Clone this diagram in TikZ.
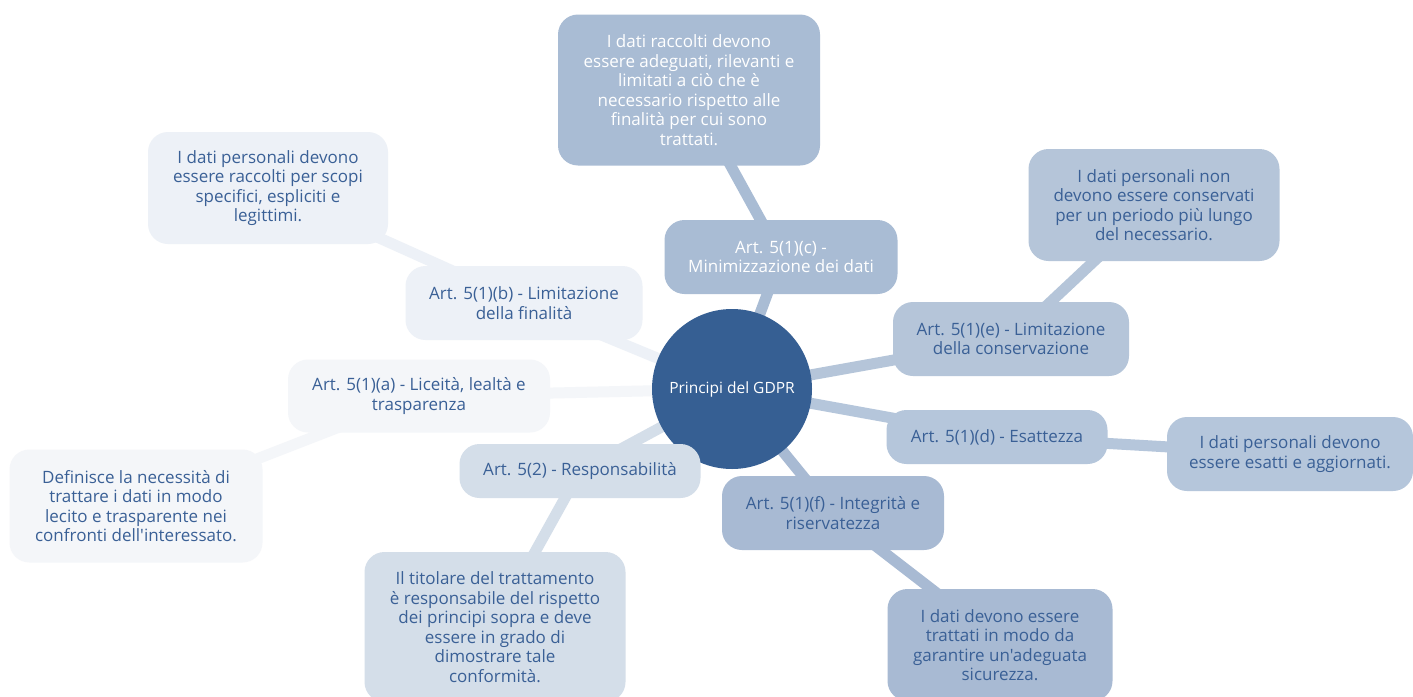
\documentclass[tikz,border=0pt]{standalone}
\usepackage{fontspec}
\setmainfont{Open Sans}[Ligatures=TeXOff]
\definecolor{ctr}{HTML}{365F93}
\definecolor{tblue}{HTML}{3A6096}
\definecolor{cc}{HTML}{A9BCD4}
\definecolor{cb}{HTML}{EDF1F7}
\definecolor{ca}{HTML}{F4F6F9}
\definecolor{cr}{HTML}{D4DEE9}
\definecolor{ce}{HTML}{B5C5D9}
\definecolor{cd}{HTML}{B5C6DB}
\definecolor{cf}{HTML}{A8BAD3}
\begin{document}
\begin{tikzpicture}[x=1pt,y=-1pt,
  box/.style={rounded corners=20pt, align=center, inner sep=0pt, font=\fontsize{17}{19.5}\selectfont},
  link/.style={line width=11pt},
]
\useasboundingbox[fill=white] (0,0) rectangle (1413,696);
% node centres
\coordinate (C) at (732,389);
% connectors
\draw[link,cc] (C) -- (781,257) -- (689,90);
\draw[link,cb] (C) -- (524,303) -- (268,188);
\draw[link,ca] (C) -- (419,396) -- (136,506);
\draw[link,cr] (C) -- (580,471) -- (495,624);
\draw[link,ce] (C) -- (1011,339) -- (1154,205);
\draw[link,cd] (C) -- (997,437) -- (1290,454);
\draw[link,cf] (C) -- (833,513) -- (1000,642);
% centre
\node[circle, fill=ctr, minimum size=160pt, inner sep=0pt, text=white, font=\fontsize{15.5}{19.5}\selectfont] (center) at (C) {Principi del GDPR};
% c
\node[box, fill=cc, text=white, minimum width=233pt, minimum height=74pt] (lc) at (781,257) {Art. 5(1)(c) -\\Minimizzazione dei dati};
\node[box, fill=cc, text=white, minimum width=262pt, minimum height=151pt] (dc) at (689,90) {I dati raccolti devono\\essere adeguati, rilevanti e\\limitati a ciò che è\\necessario rispetto alle\\finalità per cui sono\\trattati.};
% b
\node[box, fill=cb, text=tblue, minimum width=237pt, minimum height=74pt] (lb) at (524,303) {Art. 5(1)(b) - Limitazione\\della finalità};
\node[box, fill=cb, text=tblue, minimum width=240pt, minimum height=112pt] (db) at (268,188) {I dati personali devono\\essere raccolti per scopi\\specifici, espliciti e\\legittimi.};
% a
\node[box, fill=ca, text=tblue, minimum width=262pt, minimum height=73pt] (la) at (419,396) {Art. 5(1)(a) - Liceità, lealtà e\\trasparenza};
\node[box, fill=ca, text=tblue, minimum width=253pt, minimum height=113pt] (da) at (136,506) {Definisce la necessità di\\trattare i dati in modo\\lecito e trasparente nei\\confronti dell'interessato.};
% 2
\node[box, fill=cr, text=tblue, minimum width=241pt, minimum height=54pt] (lr) at (580,471) {Art. 5(2) - Responsabilità};
\node[box, fill=cr, text=tblue, minimum width=261pt, minimum height=150pt] (dr) at (495,627) {Il titolare del trattamento\\è responsabile del rispetto\\dei principi sopra e deve\\essere in grado di\\dimostrare tale\\conformità.};
% e
\node[box, fill=ce, text=tblue, minimum width=236pt, minimum height=74pt] (le) at (1011,339) {Art. 5(1)(e) - Limitazione\\della conservazione};
\node[box, fill=ce, text=tblue, minimum width=251pt, minimum height=112pt] (de) at (1154,205) {I dati personali non\\devono essere conservati\\per un periodo più lungo\\del necessario.};
% d
\node[box, fill=cd, text=tblue, minimum width=221pt, minimum height=54pt] (ld) at (997,437) {Art. 5(1)(d) - Esattezza};
\node[box, fill=cd, text=tblue, minimum width=246pt, minimum height=74pt] (dd) at (1290,454) {I dati personali devono\\essere esatti e aggiornati.};
% f
\node[box, fill=cf, text=tblue, minimum width=222pt, minimum height=74pt] (lf) at (833,513) {Art. 5(1)(f) - Integrità e\\riservatezza};
\node[box, fill=cf, text=tblue, minimum width=225pt, minimum height=112pt] (df) at (1000,645) {I dati devono essere\\trattati in modo da\\garantire un'adeguata\\sicurezza.};
\end{tikzpicture}
\end{document}
